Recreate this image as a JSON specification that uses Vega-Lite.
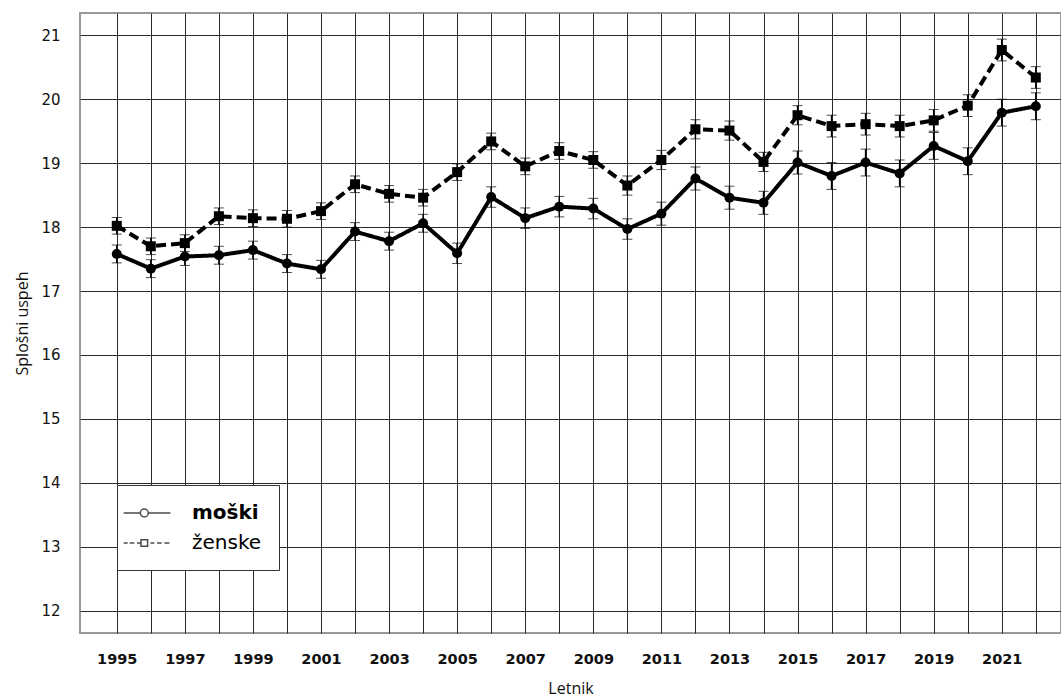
{
  "$schema": "https://vega.github.io/schema/vega-lite/v6.json",
  "autosize": "none",
  "width": 981,
  "height": 620,
  "padding": {"left": 80, "top": 13, "right": 0, "bottom": 67},
  "background": "white",
  "config": {
    "view": {"stroke": "#999", "strokeWidth": 2},
    "axis": {"gridColor": "#2a2a2a", "gridWidth": 1, "gridOpacity": 1, "ticks": false, "domain": false, "labelColor": "#111", "titleColor": "#111", "titleFont": "Open Sans", "titleFontWeight": "normal", "titleFontSize": 16}
  },
  "resolve": {"scale": {"shape": "independent"}, "legend": {"shape": "independent"}},
  "data": {"values": [
    {"year": 1995, "sex": "moški", "value": 17.58, "lo": 17.44, "hi": 17.72},
    {"year": 1996, "sex": "moški", "value": 17.35, "lo": 17.21, "hi": 17.49},
    {"year": 1997, "sex": "moški", "value": 17.54, "lo": 17.40, "hi": 17.68},
    {"year": 1998, "sex": "moški", "value": 17.56, "lo": 17.42, "hi": 17.70},
    {"year": 1999, "sex": "moški", "value": 17.64, "lo": 17.50, "hi": 17.78},
    {"year": 2000, "sex": "moški", "value": 17.43, "lo": 17.29, "hi": 17.57},
    {"year": 2001, "sex": "moški", "value": 17.34, "lo": 17.20, "hi": 17.48},
    {"year": 2002, "sex": "moški", "value": 17.93, "lo": 17.79, "hi": 18.07},
    {"year": 2003, "sex": "moški", "value": 17.78, "lo": 17.64, "hi": 17.92},
    {"year": 2004, "sex": "moški", "value": 18.06, "lo": 17.92, "hi": 18.20},
    {"year": 2005, "sex": "moški", "value": 17.59, "lo": 17.43, "hi": 17.75},
    {"year": 2006, "sex": "moški", "value": 18.47, "lo": 18.31, "hi": 18.63},
    {"year": 2007, "sex": "moški", "value": 18.14, "lo": 17.98, "hi": 18.30},
    {"year": 2008, "sex": "moški", "value": 18.32, "lo": 18.16, "hi": 18.48},
    {"year": 2009, "sex": "moški", "value": 18.29, "lo": 18.13, "hi": 18.45},
    {"year": 2010, "sex": "moški", "value": 17.97, "lo": 17.81, "hi": 18.13},
    {"year": 2011, "sex": "moški", "value": 18.21, "lo": 18.03, "hi": 18.39},
    {"year": 2012, "sex": "moški", "value": 18.76, "lo": 18.58, "hi": 18.94},
    {"year": 2013, "sex": "moški", "value": 18.46, "lo": 18.28, "hi": 18.64},
    {"year": 2014, "sex": "moški", "value": 18.38, "lo": 18.20, "hi": 18.56},
    {"year": 2015, "sex": "moški", "value": 19.01, "lo": 18.83, "hi": 19.19},
    {"year": 2016, "sex": "moški", "value": 18.80, "lo": 18.59, "hi": 19.01},
    {"year": 2017, "sex": "moški", "value": 19.01, "lo": 18.80, "hi": 19.22},
    {"year": 2018, "sex": "moški", "value": 18.84, "lo": 18.63, "hi": 19.05},
    {"year": 2019, "sex": "moški", "value": 19.27, "lo": 19.06, "hi": 19.48},
    {"year": 2020, "sex": "moški", "value": 19.03, "lo": 18.82, "hi": 19.24},
    {"year": 2021, "sex": "moški", "value": 19.79, "lo": 19.58, "hi": 20.00},
    {"year": 2022, "sex": "moški", "value": 19.89, "lo": 19.68, "hi": 20.10},
    {"year": 1995, "sex": "ženske", "value": 18.02, "lo": 17.89, "hi": 18.15},
    {"year": 1996, "sex": "ženske", "value": 17.70, "lo": 17.57, "hi": 17.83},
    {"year": 1997, "sex": "ženske", "value": 17.75, "lo": 17.62, "hi": 17.88},
    {"year": 1998, "sex": "ženske", "value": 18.17, "lo": 18.04, "hi": 18.30},
    {"year": 1999, "sex": "ženske", "value": 18.14, "lo": 18.01, "hi": 18.27},
    {"year": 2000, "sex": "ženske", "value": 18.13, "lo": 18.00, "hi": 18.26},
    {"year": 2001, "sex": "ženske", "value": 18.25, "lo": 18.12, "hi": 18.38},
    {"year": 2002, "sex": "ženske", "value": 18.67, "lo": 18.54, "hi": 18.80},
    {"year": 2003, "sex": "ženske", "value": 18.52, "lo": 18.39, "hi": 18.65},
    {"year": 2004, "sex": "ženske", "value": 18.46, "lo": 18.33, "hi": 18.59},
    {"year": 2005, "sex": "ženske", "value": 18.86, "lo": 18.73, "hi": 18.99},
    {"year": 2006, "sex": "ženske", "value": 19.34, "lo": 19.21, "hi": 19.47},
    {"year": 2007, "sex": "ženske", "value": 18.95, "lo": 18.82, "hi": 19.08},
    {"year": 2008, "sex": "ženske", "value": 19.19, "lo": 19.06, "hi": 19.32},
    {"year": 2009, "sex": "ženske", "value": 19.05, "lo": 18.92, "hi": 19.18},
    {"year": 2010, "sex": "ženske", "value": 18.65, "lo": 18.50, "hi": 18.80},
    {"year": 2011, "sex": "ženske", "value": 19.05, "lo": 18.90, "hi": 19.20},
    {"year": 2012, "sex": "ženske", "value": 19.53, "lo": 19.38, "hi": 19.68},
    {"year": 2013, "sex": "ženske", "value": 19.51, "lo": 19.36, "hi": 19.66},
    {"year": 2014, "sex": "ženske", "value": 19.02, "lo": 18.87, "hi": 19.17},
    {"year": 2015, "sex": "ženske", "value": 19.75, "lo": 19.60, "hi": 19.90},
    {"year": 2016, "sex": "ženske", "value": 19.58, "lo": 19.41, "hi": 19.75},
    {"year": 2017, "sex": "ženske", "value": 19.61, "lo": 19.44, "hi": 19.78},
    {"year": 2018, "sex": "ženske", "value": 19.58, "lo": 19.41, "hi": 19.75},
    {"year": 2019, "sex": "ženske", "value": 19.67, "lo": 19.50, "hi": 19.84},
    {"year": 2020, "sex": "ženske", "value": 19.90, "lo": 19.73, "hi": 20.07},
    {"year": 2021, "sex": "ženske", "value": 20.77, "lo": 20.60, "hi": 20.94},
    {"year": 2022, "sex": "ženske", "value": 20.34, "lo": 20.17, "hi": 20.51}
  ]},
  "encoding": {
    "x": {
      "field": "year", "type": "quantitative",
      "scale": {"domain": [1993.92, 2022.74], "nice": false, "zero": false},
      "axis": {
        "title": "Letnik",
        "values": [1995,1996,1997,1998,1999,2000,2001,2002,2003,2004,2005,2006,2007,2008,2009,2010,2011,2012,2013,2014,2015,2016,2017,2018,2019,2020,2021,2022],
        "format": "d",
        "labelExpr": "datum.value % 2 == 1 ? datum.label : ''",
        "labelFont": "DejaVu Sans", "labelFontWeight": "bold", "labelFontSize": 14.5,
        "labelPadding": 19, "labelOverlap": false, "labelFlush": false,
        "titlePadding": 15
      }
    }
  },
  "layer": [
    {
      "mark": {"type": "line", "color": "black", "strokeWidth": 4},
      "encoding": {
        "y": {"field": "value", "type": "quantitative", "title": "Splošni uspeh",
          "scale": {"domain": [11.651, 21.349], "nice": false, "zero": false},
          "axis": {"values": [12,13,14,15,16,17,18,19,20,21], "format": "d", "labelFont": "DejaVu Sans", "labelFontSize": 15, "labelPadding": 20, "titlePadding": 10}},
        "strokeDash": {
          "field": "sex", "type": "nominal",
          "scale": {"domain": ["moški", "ženske"], "range": [[1, 0], [10, 5]]},
          "legend": null
        }
      }
    },
    {
      "mark": {"type": "errorbar", "ticks": {"size": 10, "color": "black", "strokeWidth": 1.8}, "rule": {"color": "black", "strokeWidth": 1.5}},
      "encoding": {
        "y": {"field": "lo", "type": "quantitative", "title": "Splošni uspeh"},
        "y2": {"field": "hi"},
        "detail": {"field": "sex"}
      }
    },
    {
      "mark": {"type": "point", "filled": true, "color": "black", "size": 100, "opacity": 1},
      "encoding": {
        "y": {"field": "value", "type": "quantitative", "title": "Splošni uspeh"},
        "shape": {"field": "sex", "type": "nominal", "scale": {"domain": ["moški", "ženske"], "range": ["circle", "square"]}, "legend": null}
      }
    },
    {
      "transform": [{"filter": "datum.year > 3000"}],
      "mark": {"type": "point", "filled": false, "color": "black", "strokeWidth": 1.5},
      "encoding": {
        "y": {"field": "value", "type": "quantitative", "title": "Splošni uspeh"},
        "shape": {
          "field": "sex", "type": "nominal",
          "scale": {"domain": ["moški", "ženske"], "range": [
            "M-2.13,0H-0.47M0.33,0H2.54M-0.47,0A0.4,0.4,0,1,1,0.33,0A0.4,0.4,0,1,1,-0.47,0",
            "M-2.13,0H-1.73M-1.53,0H-1.06M-0.8,0H-0.46M0.54,0H0.94M1.2,0H1.67M1.94,0H2.44M-0.4,-0.33H0.26V0.33H-0.4Z"
          ]},
          "legend": {
            "title": null, "orient": "none", "legendX": 37, "legendY": 472,
            "fillColor": "white", "strokeColor": "#333", "padding": 17,
            "rowPadding": 9, "symbolSize": 400, "labelOffset": 36,
            "symbolStrokeColor": "black", "symbolStrokeWidth": 1.5, "symbolFillColor": "transparent",
            "labelFont": "DejaVu Sans", "labelFontSize": 20, "labelColor": "black",
            "labelFontWeight": {"expr": "datum.value == 'moški' ? 'bold' : 'normal'"}
          }
        }
      }
    }
  ]
}
